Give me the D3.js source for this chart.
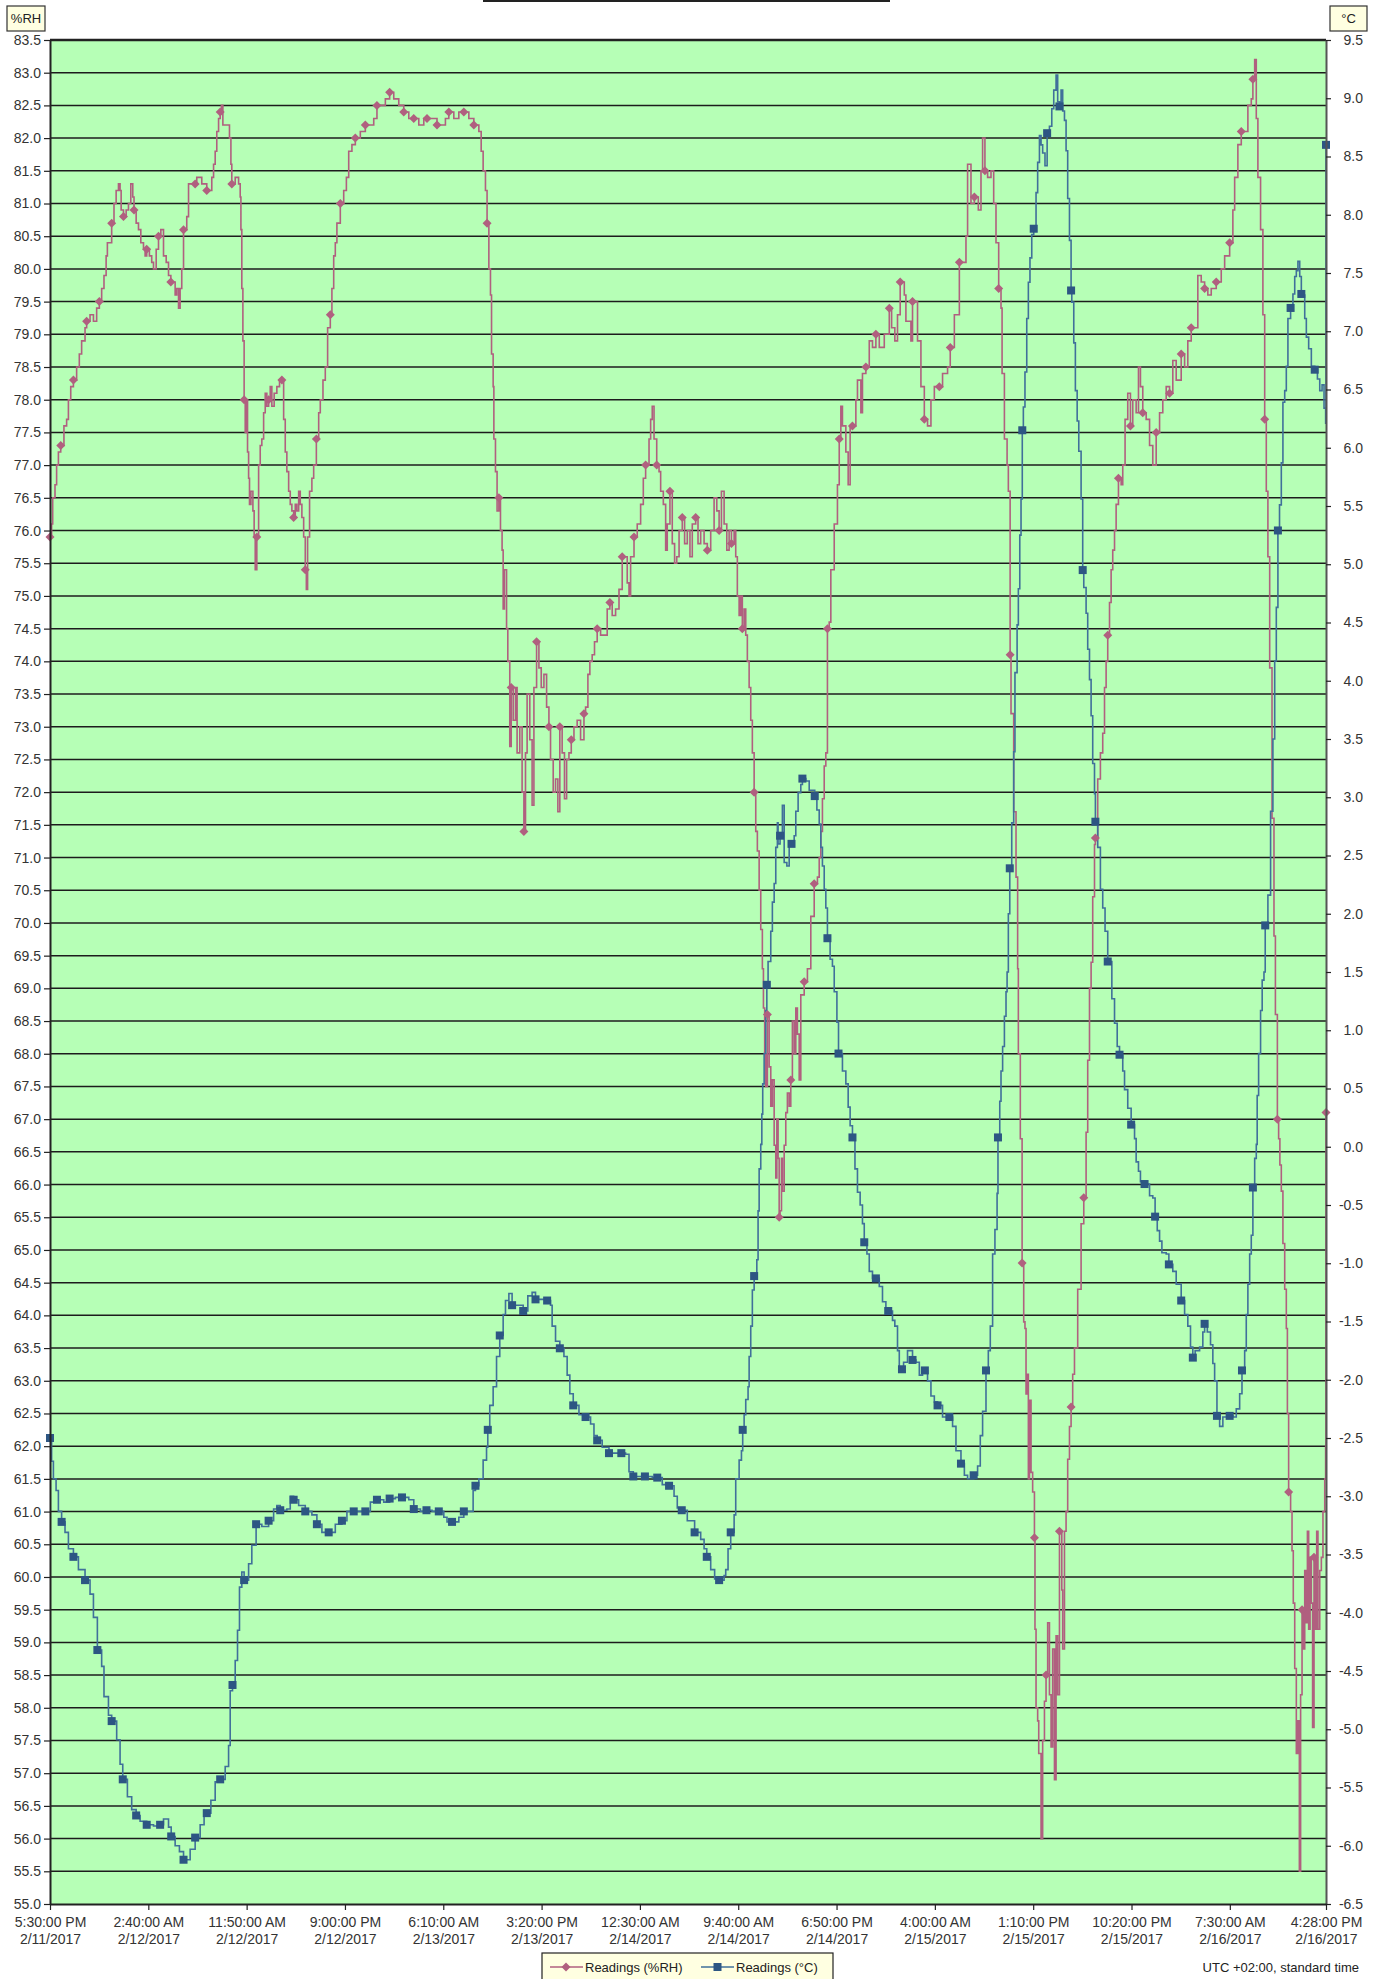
<!DOCTYPE html>
<html>
<head>
<meta charset="utf-8">
<script src="https://cdn.jsdelivr.net/npm/d3@7"></script>
<style>
  body { margin: 0; background: #fff; }
  text { font-family: "Liberation Sans", Arial, sans-serif; }
</style>
</head>
<body>
<div id="chart"></div>
<script>
'use strict';

// Time axis: minutes elapsed since 5:30:00 PM 2/11/2017 (UTC +02:00 local clock)
const startClock = Date.UTC(2017, 1, 11, 17, 30);
const endMinute = 7138;
const tickMinutes = [0, 550, 1100, 1650, 2200, 2750, 3300, 3850, 4400, 4950, 5500, 6050, 6600, 7138];

// Humidity readings (%RH)
const rhMinutes = [0, 9, 15, 28, 37, 47, 60, 78, 93, 103, 116, 131, 149, 164, 177, 196, 205, 224, 243, 261, 276, 289, 302, 314, 321, 345, 358, 370, 383, 392, 398, 411, 426, 439, 452, 463, 470, 482, 495, 508, 523, 532, 541, 556, 569, 579, 594, 607, 620, 635, 650, 663, 676, 691, 700, 709, 719, 728, 737, 747, 765, 775, 793, 812, 821, 836, 849, 862, 877, 892, 905, 915, 924, 933, 943, 952, 959, 967, 980, 993, 1004, 1012, 1017, 1036, 1045, 1055, 1064, 1068, 1073, 1079, 1086, 1092, 1101, 1105, 1111, 1116, 1124, 1135, 1142, 1148, 1157, 1167, 1176, 1185, 1195, 1204, 1213, 1223, 1232, 1241, 1254, 1269, 1284, 1297, 1307, 1316, 1325, 1335, 1344, 1353, 1363, 1372, 1381, 1391, 1400, 1409, 1419, 1428, 1434, 1441, 1452, 1465, 1475, 1490, 1503, 1512, 1527, 1540, 1553, 1568, 1577, 1587, 1596, 1605, 1624, 1643, 1658, 1671, 1689, 1708, 1736, 1764, 1792, 1811, 1829, 1848, 1876, 1900, 1923, 1951, 1979, 2007, 2035, 2063, 2091, 2109, 2137, 2165, 2193, 2212, 2231, 2259, 2287, 2315, 2343, 2371, 2399, 2412, 2423, 2436, 2445, 2455, 2464, 2470, 2479, 2483, 2492, 2501, 2511, 2520, 2529, 2535, 2542, 2554, 2561, 2572, 2580, 2591, 2604, 2613, 2628, 2641, 2651, 2660, 2669, 2684, 2697, 2707, 2722, 2735, 2748, 2763, 2778, 2791, 2800, 2815, 2828, 2841, 2852, 2865, 2878, 2890, 2903, 2916, 2931, 2949, 2968, 2987, 2996, 3009, 3020, 3033, 3046, 3061, 3080, 3099, 3117, 3132, 3145, 3164, 3183, 3201, 3214, 3229, 3239, 3248, 3267, 3285, 3304, 3319, 3332, 3351, 3360, 3369, 3379, 3394, 3407, 3416, 3431, 3444, 3453, 3468, 3481, 3494, 3506, 3519, 3537, 3550, 3565, 3580, 3593, 3612, 3625, 3640, 3659, 3677, 3696, 3715, 3730, 3743, 3756, 3771, 3786, 3799, 3812, 3827, 3836, 3845, 3855, 3864, 3873, 3883, 3892, 3901, 3911, 3920, 3929, 3939, 3948, 3957, 3967, 3976, 3985, 3991, 3998, 4004, 4013, 4023, 4032, 4041, 4051, 4060, 4066, 4073, 4079, 4084, 4092, 4097, 4107, 4116, 4125, 4135, 4144, 4153, 4163, 4172, 4181, 4191, 4200, 4219, 4237, 4256, 4275, 4293, 4303, 4312, 4321, 4331, 4340, 4349, 4359, 4368, 4387, 4405, 4415, 4424, 4433, 4452, 4465, 4476, 4489, 4508, 4517, 4536, 4545, 4564, 4583, 4601, 4620, 4639, 4667, 4695, 4708, 4726, 4741, 4756, 4779, 4788, 4816, 4825, 4853, 4872, 4891, 4909, 4928, 4947, 4975, 4993, 5021, 5036, 5059, 5087, 5124, 5133, 5152, 5171, 5193, 5208, 5217, 5230, 5245, 5264, 5279, 5292, 5307, 5320, 5326, 5339, 5354, 5361, 5371, 5376, 5391, 5404, 5413, 5417, 5428, 5438, 5447, 5454, 5460, 5469, 5473, 5479, 5488, 5497, 5507, 5510, 5516, 5525, 5531, 5544, 5553, 5563, 5572, 5581, 5591, 5600, 5609, 5619, 5628, 5637, 5647, 5652, 5660, 5665, 5675, 5684, 5693, 5703, 5712, 5721, 5731, 5749, 5768, 5783, 5796, 5805, 5815, 5824, 5833, 5843, 5848, 5861, 5876, 5889, 5899, 5908, 5917, 5927, 5936, 5945, 5955, 5964, 5977, 5992, 6001, 6014, 6029, 6044, 6057, 6076, 6089, 6100, 6113, 6132, 6151, 6169, 6188, 6207, 6225, 6244, 6263, 6281, 6300, 6328, 6347, 6365, 6384, 6403, 6421, 6440, 6459, 6477, 6496, 6524, 6552, 6571, 6599, 6617, 6627, 6645, 6664, 6683, 6701, 6720, 6729, 6739, 6748, 6757, 6772, 6785, 6795, 6804, 6813, 6823, 6836, 6847, 6855, 6866, 6873, 6880, 6888, 6897, 6907, 6916, 6922, 6929, 6940, 6948, 6955, 6963, 6972, 6981, 6989, 6996, 7004, 7011, 7019, 7028, 7034, 7041, 7049, 7056, 7063, 7071, 7078, 7086, 7093, 7103, 7112, 7121, 7131, 7136, 7138];
const rhValues = [75.9, 76.1, 76.5, 76.7, 77.0, 77.2, 77.3, 77.6, 77.7, 78.0, 78.2, 78.3, 78.5, 78.7, 78.9, 79.1, 79.2, 79.3, 79.2, 79.4, 79.5, 79.7, 79.9, 80.2, 80.4, 80.7, 81.0, 81.2, 81.3, 81.2, 80.9, 80.8, 80.9, 81.0, 81.3, 81.1, 80.9, 80.7, 80.6, 80.4, 80.3, 80.2, 80.3, 80.2, 80.1, 80.0, 80.3, 80.5, 80.6, 80.2, 80.1, 79.9, 79.8, 79.8, 79.6, 79.7, 79.4, 79.7, 80.0, 80.6, 80.8, 81.3, 81.3, 81.3, 81.4, 81.4, 81.3, 81.3, 81.2, 81.2, 81.4, 81.6, 81.8, 82.1, 82.3, 82.4, 82.5, 82.2, 82.2, 82.2, 82.0, 81.6, 81.3, 81.4, 81.4, 81.3, 81.1, 80.6, 79.7, 78.9, 78.0, 77.5, 78.0, 77.2, 76.8, 76.4, 76.6, 76.3, 75.9, 75.4, 75.9, 77.0, 77.3, 77.4, 77.8, 78.1, 77.9, 78.0, 78.2, 77.9, 78.1, 78.2, 78.3, 78.3, 77.7, 77.2, 76.9, 76.6, 76.4, 76.3, 76.2, 76.4, 76.3, 76.6, 76.4, 76.2, 75.9, 75.4, 75.1, 75.9, 76.6, 76.8, 77.0, 77.4, 77.8, 78.0, 78.3, 78.5, 79.1, 79.3, 79.7, 80.2, 80.4, 80.7, 81.0, 81.2, 81.4, 81.8, 81.9, 82.0, 82.1, 82.2, 82.2, 82.3, 82.5, 82.5, 82.6, 82.7, 82.6, 82.5, 82.4, 82.3, 82.3, 82.2, 82.3, 82.3, 82.3, 82.2, 82.2, 82.3, 82.4, 82.3, 82.4, 82.4, 82.3, 82.2, 82.1, 81.8, 81.5, 81.2, 80.7, 80.0, 79.6, 78.7, 78.2, 77.4, 76.9, 76.3, 76.5, 76.0, 75.7, 74.8, 75.4, 74.5, 74.0, 72.7, 73.6, 73.1, 73.6, 72.6, 73.0, 72.0, 71.4, 72.6, 73.5, 72.8, 71.8, 73.6, 74.3, 73.9, 73.6, 73.8, 73.3, 73.0, 72.5, 72.0, 72.2, 71.7, 73.0, 72.6, 71.9, 72.5, 72.6, 72.8, 73.0, 73.1, 72.8, 73.2, 73.3, 73.8, 74.0, 74.1, 74.3, 74.5, 74.4, 74.4, 74.8, 74.9, 74.7, 74.8, 75.1, 75.6, 75.6, 75.2, 75.0, 75.6, 75.9, 76.1, 76.4, 76.8, 77.0, 77.4, 77.7, 77.9, 77.4, 77.0, 76.9, 76.6, 76.4, 75.7, 76.1, 76.6, 75.8, 75.5, 75.6, 76.0, 76.2, 75.8, 76.0, 75.6, 76.1, 76.2, 75.8, 76.0, 75.8, 75.7, 76.0, 76.5, 76.3, 76.0, 76.6, 76.1, 75.7, 76.0, 75.8, 76.0, 75.6, 75.0, 74.7, 75.0, 74.5, 74.8, 74.4, 74.0, 73.6, 73.1, 72.6, 72.0, 71.4, 71.1, 70.5, 69.9, 69.3, 68.7, 68.0, 67.5, 68.6, 67.8, 67.2, 67.6, 66.6, 66.1, 67.0, 66.4, 65.5, 65.6, 66.4, 65.9, 66.6, 67.1, 67.4, 67.2, 67.6, 68.5, 68.0, 68.7, 68.3, 67.6, 68.9, 69.1, 69.3, 70.1, 70.6, 70.7, 71.0, 71.4, 71.9, 72.4, 72.6, 74.5, 74.6, 75.4, 76.1, 76.7, 77.4, 77.9, 77.6, 77.2, 76.7, 77.6, 77.6, 78.0, 78.3, 77.8, 78.4, 78.5, 78.9, 78.8, 79.0, 78.8, 79.0, 79.4, 79.1, 78.9, 79.3, 79.8, 79.6, 79.2, 78.9, 79.5, 78.9, 78.2, 77.7, 77.6, 78.0, 78.2, 78.2, 78.4, 78.5, 78.8, 79.3, 80.1, 80.5, 81.6, 81.0, 81.1, 80.9, 81.5, 82.0, 81.5, 81.4, 81.5, 81.0, 80.4, 79.7, 79.4, 78.4, 77.4, 77.0, 76.6, 74.1, 73.2, 71.7, 70.7, 69.3, 68.0, 66.7, 64.8, 63.9, 63.8, 62.8, 63.1, 61.5, 62.7, 61.6, 61.3, 60.6, 59.2, 58.0, 57.8, 57.3, 56.0, 57.5, 58.1, 58.5, 59.3, 58.2, 57.4, 58.9, 56.9, 59.1, 58.2, 60.7, 60.7, 59.8, 58.9, 60.7, 61.0, 61.8, 62.3, 62.6, 63.1, 63.5, 64.4, 65.4, 65.8, 66.8, 67.9, 69.0, 69.4, 70.4, 71.2, 71.3, 72.2, 72.6, 72.9, 73.6, 74.0, 74.4, 74.9, 75.4, 75.7, 76.0, 76.4, 76.8, 76.7, 77.0, 77.7, 78.1, 77.6, 78.0, 77.8, 78.5, 78.2, 77.8, 77.7, 77.3, 77.0, 77.5, 77.8, 78.0, 78.2, 78.1, 78.6, 78.3, 78.7, 78.5, 78.9, 79.1, 79.1, 79.9, 79.8, 79.7, 79.6, 79.7, 79.8, 80.0, 80.2, 80.4, 80.9, 81.4, 81.9, 82.1, 82.1, 82.5, 82.6, 82.9, 83.2, 82.3, 81.4, 80.6, 79.3, 77.7, 76.6, 75.6, 73.9, 71.6, 69.8, 68.6, 67.0, 66.7, 66.3, 65.9, 65.1, 64.4, 63.8, 62.5, 61.3, 61.0, 60.4, 59.6, 58.6, 57.3, 57.8, 55.5, 58.2, 59.5, 58.9, 60.1, 59.3, 60.7, 59.2, 60.3, 59.6, 57.7, 60.3, 59.2, 60.7, 59.2, 60.1, 60.3, 61.0, 61.5, 62.0, 67.1];

// Temperature readings (°C)
const tempMinutes = [0, 9, 19, 34, 47, 65, 84, 103, 131, 159, 196, 224, 243, 265, 289, 302, 327, 345, 373, 392, 407, 433, 457, 482, 504, 541, 579, 616, 635, 663, 678, 700, 724, 747, 771, 784, 812, 840, 862, 877, 900, 924, 952, 980, 999, 1008, 1021, 1036, 1049, 1060, 1073, 1086, 1111, 1129, 1153, 1185, 1223, 1251, 1269, 1288, 1325, 1344, 1363, 1391, 1428, 1465, 1493, 1521, 1559, 1596, 1633, 1661, 1699, 1736, 1764, 1792, 1829, 1867, 1900, 1932, 1969, 2007, 2035, 2072, 2106, 2137, 2175, 2203, 2221, 2249, 2287, 2315, 2343, 2367, 2380, 2399, 2423, 2442, 2449, 2460, 2479, 2498, 2516, 2535, 2548, 2567, 2585, 2613, 2647, 2673, 2697, 2716, 2744, 2781, 2800, 2809, 2828, 2852, 2875, 2893, 2908, 2927, 2959, 2996, 3024, 3043, 3061, 3089, 3127, 3164, 3196, 3220, 3239, 3263, 3295, 3328, 3369, 3397, 3425, 3463, 3491, 3509, 3534, 3565, 3606, 3640, 3659, 3674, 3696, 3718, 3743, 3771, 3780, 3793, 3808, 3827, 3836, 3855, 3868, 3875, 3883, 3892, 3905, 3911, 3920, 3929, 3939, 3954, 3961, 3967, 3976, 3982, 3987, 3995, 4004, 4010, 4017, 4032, 4041, 4051, 4060, 4069, 4073, 4084, 4097, 4107, 4122, 4135, 4148, 4163, 4172, 4185, 4200, 4209, 4228, 4247, 4265, 4278, 4290, 4303, 4312, 4321, 4331, 4340, 4349, 4364, 4377, 4387, 4402, 4411, 4433, 4452, 4465, 4476, 4489, 4503, 4517, 4532, 4545, 4555, 4570, 4583, 4601, 4620, 4639, 4657, 4676, 4689, 4713, 4726, 4741, 4751, 4766, 4775, 4797, 4825, 4844, 4863, 4881, 4894, 4909, 4928, 4947, 4965, 4993, 5031, 5049, 5068, 5096, 5115, 5133, 5167, 5189, 5204, 5217, 5236, 5249, 5260, 5273, 5286, 5298, 5303, 5313, 5320, 5329, 5339, 5348, 5354, 5361, 5369, 5380, 5391, 5398, 5410, 5417, 5425, 5432, 5439, 5445, 5454, 5464, 5473, 5482, 5492, 5503, 5516, 5525, 5535, 5544, 5553, 5566, 5578, 5591, 5604, 5615, 5628, 5637, 5647, 5656, 5665, 5675, 5684, 5693, 5703, 5712, 5716, 5727, 5736, 5746, 5755, 5768, 5777, 5783, 5796, 5805, 5815, 5824, 5833, 5843, 5848, 5861, 5876, 5889, 5902, 5917, 5940, 5955, 5970, 5983, 6001, 6011, 6029, 6048, 6067, 6076, 6089, 6100, 6123, 6151, 6169, 6182, 6194, 6207, 6220, 6244, 6259, 6281, 6300, 6328, 6347, 6365, 6380, 6393, 6406, 6431, 6449, 6459, 6474, 6492, 6505, 6515, 6528, 6543, 6561, 6580, 6599, 6617, 6636, 6655, 6668, 6683, 6692, 6701, 6711, 6720, 6729, 6739, 6748, 6753, 6761, 6772, 6781, 6791, 6798, 6813, 6828, 6841, 6851, 6860, 6869, 6878, 6888, 6897, 6907, 6916, 6925, 6940, 6953, 6963, 6972, 6981, 6991, 7000, 7009, 7019, 7028, 7041, 7056, 7075, 7090, 7103, 7116, 7127, 7136, 7138];
const tempValues = [-2.5, -2.7, -2.85, -2.95, -3.13, -3.22, -3.31, -3.45, -3.52, -3.63, -3.72, -3.84, -4.04, -4.32, -4.46, -4.72, -4.88, -4.93, -5.09, -5.3, -5.43, -5.58, -5.69, -5.74, -5.79, -5.82, -5.83, -5.82, -5.77, -5.84, -5.92, -6.0, -6.05, -6.12, -6.12, -6.03, -5.93, -5.82, -5.71, -5.72, -5.61, -5.45, -5.43, -5.32, -5.14, -4.67, -4.62, -4.41, -4.15, -3.78, -3.65, -3.72, -3.58, -3.42, -3.24, -3.26, -3.21, -3.11, -3.08, -3.12, -3.11, -3.0, -3.03, -3.08, -3.13, -3.16, -3.24, -3.31, -3.31, -3.24, -3.21, -3.13, -3.13, -3.13, -3.13, -3.05, -3.03, -3.05, -3.02, -3.01, -3.01, -3.03, -3.11, -3.13, -3.12, -3.13, -3.13, -3.18, -3.22, -3.22, -3.18, -3.13, -3.13, -2.95, -2.91, -2.85, -2.69, -2.58, -2.43, -2.22, -2.06, -1.8, -1.62, -1.44, -1.32, -1.26, -1.36, -1.36, -1.41, -1.28, -1.25, -1.31, -1.31, -1.32, -1.36, -1.54, -1.67, -1.73, -1.8, -1.96, -2.12, -2.22, -2.3, -2.32, -2.38, -2.48, -2.52, -2.58, -2.63, -2.63, -2.63, -2.64, -2.79, -2.83, -2.83, -2.83, -2.84, -2.84, -2.9, -2.91, -3.0, -3.1, -3.12, -3.21, -3.31, -3.37, -3.45, -3.52, -3.63, -3.71, -3.72, -3.68, -3.63, -3.45, -3.31, -3.16, -2.85, -2.69, -2.61, -2.43, -2.3, -2.17, -2.06, -1.8, -1.54, -1.23, -1.11, -0.97, -0.55, -0.19, 0.02, 0.28, 0.54, 0.8, 1.17, 1.39, 1.59, 1.85, 2.1, 2.26, 2.57, 2.78, 2.6, 2.67, 2.93, 2.44, 2.41, 2.62, 2.6, 2.67, 2.88, 3.04, 3.11, 3.16, 3.14, 3.06, 3.06, 3.01, 2.89, 2.77, 2.57, 2.41, 2.21, 2.05, 1.79, 1.61, 1.55, 1.33, 1.07, 0.8, 0.65, 0.54, 0.34, 0.18, 0.08, -0.19, -0.39, -0.5, -0.66, -0.82, -0.92, -1.07, -1.13, -1.13, -1.2, -1.33, -1.41, -1.41, -1.49, -1.54, -1.75, -1.91, -1.91, -1.85, -1.75, -1.83, -1.85, -1.96, -1.9, -1.92, -2.01, -2.14, -2.19, -2.22, -2.32, -2.32, -2.4, -2.61, -2.72, -2.82, -2.85, -2.82, -2.74, -2.48, -2.27, -1.92, -1.75, -1.54, -0.92, -0.71, -0.4, 0.08, 0.39, 0.65, 0.86, 1.12, 1.33, 1.5, 2.0, 2.39, 2.78, 3.39, 4.07, 4.48, 4.79, 5.25, 5.56, 6.15, 6.35, 6.65, 7.11, 7.42, 7.63, 7.83, 7.88, 8.19, 8.45, 8.68, 8.6, 8.53, 8.42, 8.7, 8.76, 8.91, 9.07, 9.2, 8.97, 8.93, 9.07, 8.89, 8.81, 8.55, 8.14, 7.78, 7.35, 7.25, 6.9, 6.49, 6.23, 5.97, 5.56, 4.95, 4.8, 4.58, 4.27, 4.01, 3.7, 3.29, 3.03, 2.79, 2.57, 2.21, 2.05, 1.85, 1.59, 1.27, 1.06, 0.86, 0.79, 0.65, 0.49, 0.33, 0.19, 0.07, -0.13, -0.21, -0.3, -0.32, -0.42, -0.44, -0.6, -0.72, -0.81, -0.91, -0.92, -1.01, -1.07, -1.18, -1.32, -1.44, -1.54, -1.72, -1.81, -1.75, -1.72, -1.59, -1.52, -1.59, -1.7, -1.86, -2.01, -2.31, -2.4, -2.32, -2.32, -2.31, -2.32, -2.25, -2.12, -1.92, -1.75, -1.44, -1.18, -0.92, -0.76, -0.35, -0.1, 0.02, 0.44, 0.8, 1.17, 1.43, 1.5, 1.9, 2.16, 2.88, 3.5, 4.17, 4.63, 5.29, 5.51, 5.87, 6.39, 6.49, 6.7, 7.11, 7.2, 7.32, 7.47, 7.52, 7.6, 7.47, 7.32, 7.31, 7.11, 6.95, 6.85, 6.7, 6.67, 6.59, 6.49, 6.54, 6.34, 6.21, 8.6];

const rhTicks = d3.range(0, 58).map(i => 55 + i * 0.5);
const tempTicks = d3.range(0, 33).map(i => -6.5 + i * 0.5);
const markerCount = 105;   // markers are spread evenly over the readings

const seriesNames = ['Readings (%RH)', 'Readings (\u00B0C)'];
const footNote = 'UTC +02:00, standard time';

// Layout
const width = 1383, height = 1979;
const margin = { top: 40, right: 57, bottom: 75, left: 50 };
const innerW = width - margin.left - margin.right;
const innerH = height - margin.top - margin.bottom;

const rhColor = '#b0607f';
const tempLine = '#40709a';
const tempMark = '#2d5683';
const boxFill = '#ffffe1';

const toDate = m => new Date(startClock + m * 60000);

const x = d3.scaleUtc()
  .domain([toDate(0), toDate(endMinute)])
  .range([0, innerW]);
const yRH = d3.scaleLinear().domain([55, 83.5]).range([innerH, 0]);
const yT = d3.scaleLinear().domain([-6.5, 9.5]).range([innerH, 0]);

const svg = d3.select('#chart').append('svg')
  .attr('width', width)
  .attr('height', height);

svg.append('rect').attr('width', width).attr('height', height).attr('fill', '#fff');

// remains of the (empty) title box at the very top
svg.append('rect')
  .attr('x', 484).attr('y', -12).attr('width', 405).attr('height', 13)
  .attr('fill', '#fff').attr('stroke', '#222').attr('stroke-width', 2);

const g = svg.append('g')
  .attr('transform', 'translate(' + margin.left + ',' + margin.top + ')');

g.append('rect')
  .attr('width', innerW).attr('height', innerH)
  .attr('fill', '#b6ffb6');

// horizontal grid
g.selectAll('.grid')
  .data(rhTicks.filter(v => v > 55 && v < 83.5))
  .enter().append('line')
  .attr('class', 'grid')
  .attr('x1', 0).attr('x2', innerW)
  .attr('y1', d => yRH(d)).attr('y2', d => yRH(d))
  .attr('stroke', '#1c1c1c').attr('stroke-width', 1.5);

g.append('line')
  .attr('x1', 0).attr('x2', innerW).attr('y1', 0).attr('y2', 0)
  .attr('stroke', '#222').attr('stroke-width', 2.5);

// series
const rhData = rhMinutes.map((m, i) => ({ m: m, v: rhValues[i] }));
const tempData = tempMinutes.map((m, i) => ({ m: m, v: tempValues[i] }));

const rhLine = d3.line().curve(d3.curveStepAfter).x(d => x(toDate(d.m))).y(d => yRH(d.v));
const tLine = d3.line().curve(d3.curveStepAfter).x(d => x(toDate(d.m))).y(d => yT(d.v));

g.append('path').datum(rhData)
  .attr('fill', 'none').attr('stroke', rhColor).attr('stroke-width', 1.6)
  .attr('d', rhLine);

g.append('path').datum(tempData)
  .attr('fill', 'none').attr('stroke', tempLine).attr('stroke-width', 1.6)
  .attr('d', tLine);

// markers sit on the reading closest to each evenly spaced marker time
function markerPoints(data) {
  const mins = data.map(d => d.m);
  return d3.range(markerCount + 1).map(k => {
    const t = k * endMinute / markerCount;
    let i = d3.bisectLeft(mins, t);
    if (i >= mins.length) i = mins.length - 1;
    if (i > 0 && Math.abs(mins[i - 1] - t) < Math.abs(mins[i] - t)) i -= 1;
    return data[i];
  });
}

const diamond = 'M0,-4.5L4.5,0L0,4.5L-4.5,0Z';

g.selectAll('.rh-mark')
  .data(markerPoints(rhData))
  .enter().append('path')
  .attr('class', 'rh-mark')
  .attr('d', diamond)
  .attr('transform', d => 'translate(' + x(toDate(d.m)) + ',' + yRH(d.v) + ')')
  .attr('fill', rhColor);

g.selectAll('.t-mark')
  .data(markerPoints(tempData))
  .enter().append('rect')
  .attr('class', 't-mark')
  .attr('x', d => x(toDate(d.m)) - 4)
  .attr('y', d => yT(d.v) - 4)
  .attr('width', 8).attr('height', 8)
  .attr('fill', tempMark);

// axes
function styleAxis(sel) {
  sel.select('.domain').attr('stroke', '#222').attr('stroke-width', 2);
  sel.selectAll('.tick line').attr('stroke', '#222').attr('stroke-width', 1.2);
  sel.selectAll('.tick text')
    .attr('fill', '#333')
    .style('font-size', '14px')
    .style('font-family', '"Liberation Sans", Arial, sans-serif');
}

g.append('g')
  .call(d3.axisLeft(yRH).tickValues(rhTicks).tickFormat(d => d.toFixed(1)).tickSize(6).tickPadding(3).tickSizeOuter(0))
  .call(styleAxis);

const rightAxis = g.append('g')
  .attr('transform', 'translate(' + innerW + ',0)')
  .call(d3.axisRight(yT).tickValues(tempTicks).tickFormat(d => d.toFixed(1)).tickSize(5).tickSizeOuter(0))
  .call(styleAxis);
rightAxis.select('.domain').attr('stroke', '#555');
rightAxis.selectAll('.tick text').attr('text-anchor', 'end').attr('x', 37);

const fmtTime = d3.utcFormat('%-I:%M:%S %p');
const fmtDate = d3.utcFormat('%-m/%-d/%Y');

const bottomAxis = g.append('g')
  .attr('transform', 'translate(0,' + innerH + ')')
  .call(d3.axisBottom(x).tickValues(tickMinutes.map(toDate)).tickSize(6).tickSizeOuter(0).tickFormat(''))
  .call(styleAxis);

bottomAxis.selectAll('.tick text').each(function (d) {
  const t = d3.select(this).attr('y', 0).attr('dy', null);
  t.append('tspan').attr('x', 0).attr('y', 23).text(fmtTime(d));
  t.append('tspan').attr('x', 0).attr('y', 40).text(fmtDate(d));
});

// axis unit boxes
function unitBox(xPos, w, label) {
  svg.append('rect')
    .attr('x', xPos).attr('y', 6).attr('width', w).attr('height', 25)
    .attr('fill', boxFill).attr('stroke', '#333').attr('stroke-width', 1.2);
  svg.append('text')
    .attr('x', xPos + w / 2).attr('y', 23)
    .attr('text-anchor', 'middle')
    .style('font-size', '13px').attr('fill', '#222')
    .text(label);
}
unitBox(7, 38, '%RH');
unitBox(1330, 37, '\u00B0C');

// legend
const legend = svg.append('g');
legend.append('rect')
  .attr('x', 542).attr('y', 1953).attr('width', 291).attr('height', 40)
  .attr('fill', boxFill).attr('stroke', '#222').attr('stroke-width', 1.2);

const legendItems = [
  { x: 550, name: seriesNames[0], color: rhColor, mark: 'diamond' },
  { x: 701, name: seriesNames[1], color: tempLine, mark: 'square' }
];
const item = legend.selectAll('.item').data(legendItems).enter().append('g')
  .attr('transform', d => 'translate(' + d.x + ',1967)');
item.append('line').attr('x1', 0).attr('x2', 33).attr('stroke', d => d.color).attr('stroke-width', 1.6);
item.filter(d => d.mark === 'diamond').append('path').attr('d', diamond)
  .attr('transform', 'translate(16,0)').attr('fill', rhColor);
item.filter(d => d.mark === 'square').append('rect')
  .attr('x', 12.5).attr('y', -4).attr('width', 8).attr('height', 8).attr('fill', tempMark);
item.append('text').attr('x', 35).attr('y', 5)
  .style('font-size', '13px').attr('fill', '#222')
  .text(d => d.name);

svg.append('text')
  .attr('x', 1359).attr('y', 1972)
  .attr('text-anchor', 'end')
  .style('font-size', '13px').attr('fill', '#222')
  .text(footNote);
</script>
</body>
</html>
